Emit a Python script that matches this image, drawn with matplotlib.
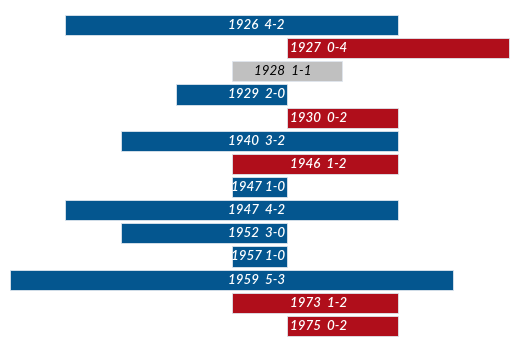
import matplotlib.pyplot as plt

# matches: year, goals scored (left), goals conceded (right)
years = ['1926', '1927', '1928', '1929', '1930', '1940', '1946',
         '1947', '1947', '1952', '1957', '1959', '1973', '1975']
goals_for = [4, 0, 1, 2, 0, 3, 1, 1, 4, 3, 1, 5, 1, 0]
goals_against = [2, 4, 1, 0, 2, 2, 2, 0, 2, 0, 0, 3, 2, 2]
spacing = ['  ', '  ', '  ', '  ', '  ', '  ', '  ', ' ', '  ', '  ', ' ', '  ', '  ', '  ']

blue = '#04568f'
red = '#b00e1b'
grey = '#c0c0c0'

plt.rcParams['font.family'] = ['Lato', 'DejaVu Sans']

fig = plt.figure(figsize=(5.3, 3.44), dpi=100)
ax = fig.add_axes([0, 0, 1, 1])

unit = 55.4
for i in range(len(years)):
    gf = goals_for[i]
    ga = goals_against[i]
    if gf > ga:
        col, tcol = blue, 'white'
    elif gf < ga:
        col, tcol = red, 'white'
    else:
        col, tcol = grey, 'black'
    ax.barh(i, gf + ga, left=-gf, height=0.87, color=col,
            edgecolor='#dfe6ee', linewidth=0.6)
    label = f'{years[i]}{spacing[i]}{gf}-{ga}'
    if gf > ga:
        ax.text(-0.04, i, label, ha='right', va='center', color=tcol,
                fontsize=9.6, style='italic', fontweight='semibold')
    elif gf < ga:
        ax.text(0.05, i, label, ha='left', va='center', color=tcol,
                fontsize=9.6, style='italic', fontweight='semibold')
    else:
        ax.text(-0.07, i, label, ha='center', va='center', color=tcol,
                fontsize=9.6, style='italic')

ax.set_xlim(-287 / unit, 243 / unit)
ax.set_ylim(344 / 23.15 - 25 / 23.15, -25 / 23.15)
ax.axis('off')

fig.savefig('out.png', dpi=100)
